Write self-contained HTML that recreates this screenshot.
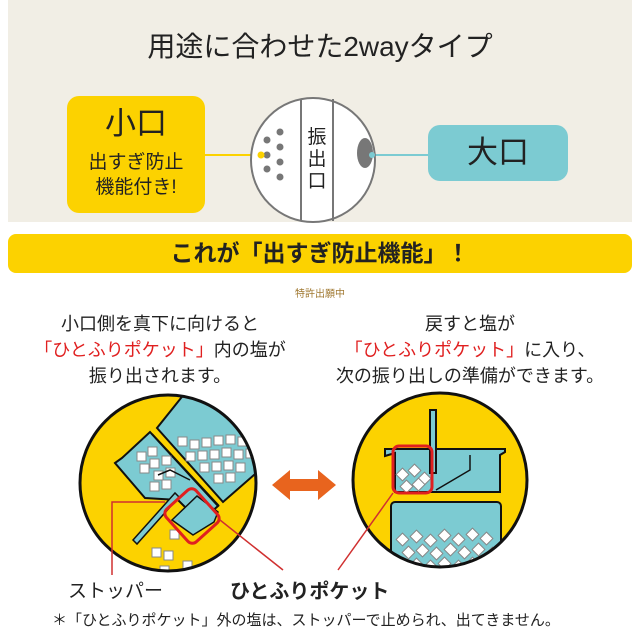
<!DOCTYPE html>
<html><head><meta charset="utf-8"><style>
body{margin:0;width:640px;height:640px;background:#fff;overflow:hidden;font-family:"Liberation Sans","Noto Sans CJK JP",sans-serif;color:#222;position:relative}
.a{position:absolute}
.c{text-align:center}
</style></head><body>
<div class="a" style="left:8px;top:0;width:624px;height:222px;background:#f1eee5"></div>
<div class="a c" style="left:0;width:640px;top:27px;font-size:28px;line-height:40px">用途に合わせた2wayタイプ</div>
<div class="a c" style="left:67px;top:96px;width:138px;height:117px;background:#fcd200;border-radius:12px">
 <div style="font-size:31px;line-height:40px;margin-top:8px">小口</div>
 <div style="font-size:19px;line-height:25px;margin-top:6px">出すぎ防止<br>機能付き!</div>
</div>
<div class="a c" style="left:428px;top:125px;width:140px;height:56px;background:#7ccbd2;border-radius:12px;font-size:31px;line-height:56px">大口</div>
<svg class="a" style="left:0;top:0" width="640" height="640">
 <defs>
  <clipPath id="cl"><circle cx="168" cy="483" r="87"/></clipPath>
  <clipPath id="cr"><circle cx="440" cy="480" r="86"/></clipPath>
  <g id="sq"><rect width="9" height="9" fill="#fff" stroke="#888" stroke-width="1"/></g>
  <g id="dm"><rect width="9" height="9" fill="#fff" stroke="#888" stroke-width="1" transform="rotate(45 4.5 4.5)"/></g>
 </defs>
 <line x1="205" y1="155" x2="262" y2="155" stroke="#fcd200" stroke-width="2"/>
 <line x1="372" y1="155" x2="428" y2="155" stroke="#7ccbd2" stroke-width="2"/>
 <circle cx="313" cy="160" r="62" fill="#fff" stroke="#777" stroke-width="2"/>
 <line x1="301" y1="99" x2="301" y2="221" stroke="#777" stroke-width="2"/>
 <line x1="333" y1="99" x2="333" y2="221" stroke="#777" stroke-width="2"/>
 <text x="317" y="143" font-size="19" text-anchor="middle" fill="#222">振</text>
 <text x="317" y="165" font-size="19" text-anchor="middle" fill="#222">出</text>
 <text x="317" y="187" font-size="19" text-anchor="middle" fill="#222">口</text>
 <g fill="#777"><circle cx="267" cy="140" r="3.5"/><circle cx="280" cy="132" r="3.5"/><circle cx="267" cy="155" r="3.5"/><circle cx="280" cy="147" r="3.5"/><circle cx="280" cy="162" r="3.5"/><circle cx="267" cy="169" r="3.5"/><circle cx="280" cy="177" r="3.5"/></g>
 <circle cx="261" cy="155" r="3.5" fill="#fcd200"/>
 <ellipse cx="365" cy="153" rx="8" ry="15" fill="#777"/>
 <circle cx="372" cy="155" r="3" fill="#7ccbd2"/>
 <!-- left circle -->
 <circle cx="168" cy="483" r="88" fill="#fcd200"/>
 <g clip-path="url(#cl)">
  <polygon points="185,393 157,428 223,502 262,468 262,393" fill="#7ccbd2" stroke="#111" stroke-width="2"/>
  <polygon points="115,463 122,458 150,432 218,506 200,522 178,500 145,498" fill="#7ccbd2" stroke="#111" stroke-width="2"/>
  <line x1="152" y1="434" x2="219" y2="506" stroke="#111" stroke-width="2"/>
  <g>
   <use href="#sq" x="178" y="437"/><use href="#sq" x="190" y="440"/><use href="#sq" x="202" y="438"/><use href="#sq" x="214" y="436"/><use href="#sq" x="226" y="435"/><use href="#sq" x="238" y="437"/><use href="#sq" x="242" y="425"/>
   <use href="#sq" x="186" y="452"/><use href="#sq" x="198" y="451"/><use href="#sq" x="210" y="450"/><use href="#sq" x="222" y="448"/><use href="#sq" x="234" y="450"/><use href="#sq" x="246" y="449"/>
   <use href="#sq" x="200" y="463"/><use href="#sq" x="212" y="462"/><use href="#sq" x="224" y="461"/><use href="#sq" x="236" y="463"/><use href="#sq" x="214" y="474"/><use href="#sq" x="226" y="473"/>
   <use href="#sq" x="137" y="452"/><use href="#sq" x="148" y="447"/><use href="#sq" x="150" y="459"/><use href="#sq" x="162" y="456"/><use href="#sq" x="140" y="464"/><use href="#sq" x="154" y="471"/><use href="#sq" x="166" y="468"/><use href="#sq" x="150" y="482"/><use href="#sq" x="162" y="480"/>
   <use href="#sq" x="152" y="548"/><use href="#sq" x="164" y="551"/><use href="#sq" x="160" y="566"/><use href="#sq" x="183" y="561"/><use href="#sq" x="170" y="530"/>
  </g>
  <polyline points="158,475 170,470 190,480" fill="none" stroke="#111" stroke-width="1.5"/>
  <polygon points="172,520 197,496 218,512 214,522 193,535" fill="#7ccbd2" stroke="#111" stroke-width="1.5"/>
  <polygon points="133,540 175,493 179,497 137,544" fill="#7ccbd2" stroke="#111" stroke-width="1.5"/>
 </g>
 <circle cx="168" cy="483" r="88" fill="none" stroke="#111" stroke-width="3"/>
 <rect x="172" y="494" width="40" height="44" rx="6" fill="none" stroke="#e02020" stroke-width="3" transform="rotate(-42 192 516)"/>
 <polyline points="112,575 112,502 165,502" fill="none" stroke="#d03030" stroke-width="1.5"/>
 <line x1="220" y1="520" x2="283" y2="570" stroke="#d03030" stroke-width="1.5"/>
 <!-- arrow -->
 <polygon points="272,485 290,470 290,479 318,479 318,470 336,485 318,500 318,491 290,491 290,500" fill="#e8641e"/>
 <!-- right circle -->
 <circle cx="440" cy="480" r="87" fill="#fcd200"/>
 <g clip-path="url(#cr)">
  <g stroke="#111" stroke-width="2" fill="#7ccbd2">
   <path d="M385,456 L395,453 L395,488 L395,492 L500,492 L500,455 L505,452 L505,449 L385,449 Z"/>
   <rect x="391" y="502" width="110" height="80" rx="4"/>
   <rect x="430" y="410" width="6" height="63"/>
  </g>
  <polyline points="436,490 470,470 470,455" fill="none" stroke="#111" stroke-width="1.5"/>
  <use href="#dm" x="398" y="470"/><use href="#dm" x="410" y="466"/><use href="#dm" x="420" y="474"/><use href="#dm" x="402" y="482"/><use href="#dm" x="414" y="480"/>
  <g>
   <use href="#dm" x="398" y="535"/><use href="#dm" x="412" y="532"/><use href="#dm" x="426" y="536"/><use href="#dm" x="440" y="531"/><use href="#dm" x="454" y="535"/><use href="#dm" x="468" y="530"/><use href="#dm" x="482" y="534"/>
   <use href="#dm" x="404" y="548"/><use href="#dm" x="418" y="546"/><use href="#dm" x="432" y="549"/><use href="#dm" x="446" y="545"/><use href="#dm" x="460" y="548"/><use href="#dm" x="474" y="545"/><use href="#dm" x="488" y="549"/>
   <use href="#dm" x="398" y="561"/><use href="#dm" x="412" y="560"/><use href="#dm" x="426" y="562"/><use href="#dm" x="440" y="559"/><use href="#dm" x="454" y="562"/><use href="#dm" x="468" y="559"/><use href="#dm" x="482" y="562"/>
  </g>
 </g>
 <circle cx="440" cy="480" r="87" fill="none" stroke="#111" stroke-width="3"/>
 <rect x="393" y="446" width="39" height="47" rx="6" fill="none" stroke="#e02020" stroke-width="3"/>
 <line x1="393" y1="493" x2="338" y2="570" stroke="#d03030" stroke-width="1.5"/>
</svg>
<div class="a c" style="left:0;width:640px;top:234px"><div style="margin:0 8px;height:39px;background:#fcd200;border-radius:8px;font-size:23px;font-weight:bold;line-height:39px">これが「出すぎ防止機能」！</div></div>
<div class="a c" style="left:0;width:640px;top:285px;font-size:10px;color:#a07830">特許出願中</div>
<div class="a c" style="left:30px;width:260px;top:311px;font-size:18px;line-height:26px">小口側を真下に向けると<br><span style="color:#e02020">「ひとふりポケット」</span>内の塩が<br>振り出されます。</div>
<div class="a c" style="left:330px;width:280px;top:311px;font-size:18px;line-height:26px">戻すと塩が<br><span style="color:#e02020">「ひとふりポケット」</span>に入り、<br>次の振り出しの準備ができます。</div>
<div class="a" style="left:68px;top:576px;font-size:19px">ストッパー</div>
<div class="a" style="left:230px;top:575px;font-size:20px;font-weight:bold">ひとふりポケット</div>
<div class="a" style="left:52px;top:609px;font-size:15px">＊「ひとふりポケット」外の塩は、ストッパーで止められ、出てきません。</div>
</body></html>
